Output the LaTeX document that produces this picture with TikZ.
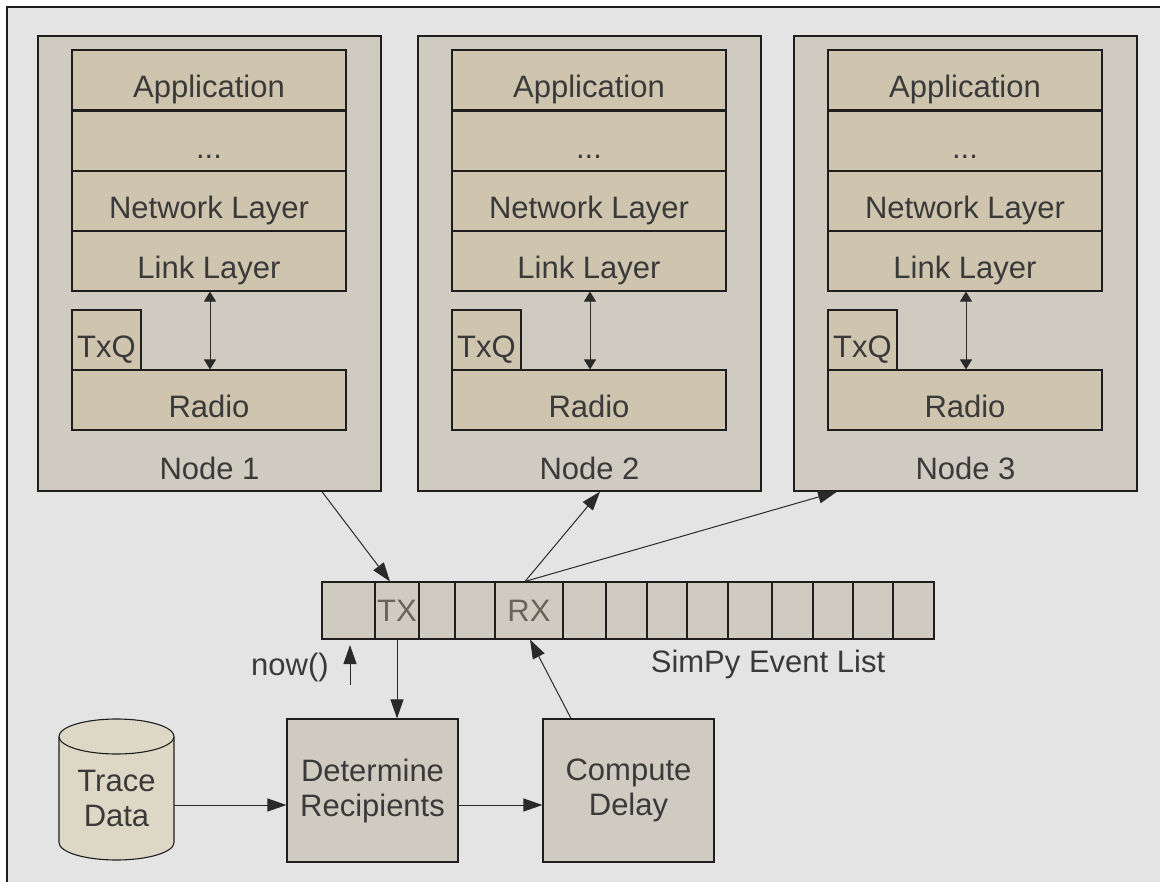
\documentclass[tikz,border=0pt]{standalone}
\usepackage{fontspec}
\setmainfont{Liberation Sans}
\usetikzlibrary{arrows.meta,calc}
\definecolor{bgc}{HTML}{E4E4E4}
\definecolor{nodec}{HTML}{D0CBC0}
\definecolor{layc}{HTML}{CFC5AE}
\definecolor{cylc}{HTML}{DDD7C5}
\definecolor{linec}{HTML}{1E1E1E}
\definecolor{arrc}{HTML}{2A2A2A}
\definecolor{txtc}{HTML}{3A3A3A}
\definecolor{cellt}{HTML}{6B6358}
\begin{document}
\begin{tikzpicture}[x=1pt,y=-1pt,
  font=\fontsize{31}{35}\selectfont, text=txtc,
  outerbox/.style={draw=linec, line width=1.3pt, fill=nodec, inner sep=0pt, minimum width=343pt, minimum height=455pt},
  layer/.style={draw=linec, line width=1.1pt, fill=layc, inner sep=0pt, minimum width=274pt, minimum height=60pt, text height=36pt, text depth=0pt},
  txq/.style={layer, minimum width=69pt},
  cell/.style={draw=linec, line width=1.1pt, fill=nodec, inner sep=0pt, minimum height=57pt, text height=22pt, text depth=0pt, text=cellt},
  procbox/.style={draw=linec, line width=1.1pt, fill=nodec, inner sep=0pt, minimum width=171pt, minimum height=143pt, align=center},
  lbl/.style={anchor=base, inner sep=0pt},
  arr/.style={draw=arrc, line width=1pt, -{Triangle[length=19pt,width=13pt]}},
  dbl/.style={draw=arrc, line width=1pt, {Triangle[length=10pt,width=12pt]}-{Triangle[length=10pt,width=12pt]}}
]
\useasboundingbox (0,0) rectangle (1160,882);
\fill[white] (0,0) rectangle (1160,882);
\fill[bgc] (7,7) rectangle (1160,882);
\draw[linec, line width=1.2pt] (7,882) -- (7,7) -- (1160,7);

% protocol-stack nodes
\foreach \i/\dx in {1/0,2/380,3/756}{
  \node[outerbox] (n\i) at (209.5+\dx,263.5) {};
  \node[layer] (app\i) at (209+\dx,80) {Application};
  \node[layer] (dots\i) at (209+\dx,141) {...};
  \node[layer] (net\i) at (209+\dx,201) {Network Layer};
  \node[layer] (link\i) at (209+\dx,261) {Link Layer};
  \node[txq] (txq\i) at (106.5+\dx,340) {TxQ};
  \node[layer] (radio\i) at (209+\dx,400) {Radio};
  \node[lbl] (nlab\i) at (209.5+\dx,480) {Node \i};
  \draw[dbl] ([xshift=1pt]link\i.south) -- ([xshift=1pt]radio\i.north);
}

% event list
\node[cell, minimum width=53pt] (c1) at (348.5,610.5) {};
\node[cell, minimum width=44pt] (tx) at (397,610.5) {TX};
\node[cell, minimum width=36pt] (c3) at (437,610.5) {};
\node[cell, minimum width=40pt] (c4) at (475,610.5) {};
\node[cell, minimum width=68pt] (rx) at (529,610.5) {RX};
\node[cell, minimum width=43pt] (c6) at (584.5,610.5) {};
\node[cell, minimum width=41pt] (c7) at (626.5,610.5) {};
\node[cell, minimum width=40pt] (c8) at (667,610.5) {};
\node[cell, minimum width=41pt] (c9) at (707.5,610.5) {};
\node[cell, minimum width=44pt] (c10) at (750,610.5) {};
\node[cell, minimum width=41pt] (c11) at (792.5,610.5) {};
\node[cell, minimum width=40pt] (c12) at (833,610.5) {};
\node[cell, minimum width=40pt] (c13) at (873,610.5) {};
\node[cell, minimum width=41pt] (c14) at (913.5,610.5) {};
\node[lbl] (simpy) at (768,672) {SimPy Event List};
\node[lbl] (now) at (290,675) {now()};

% trace data cylinder
\fill[cylc] (59,736.5) -- (59,842.5) arc[start angle=180, end angle=360, x radius=57.5pt, y radius=17.5pt] -- (174,736.5) -- cycle;
\draw[linec, line width=1.1pt] (59,736.5) -- (59,842.5) arc[start angle=180, end angle=360, x radius=57.5pt, y radius=17.5pt] -- (174,736.5);
\draw[linec, line width=1.1pt, fill=cylc] (116.5,736.5) ellipse[x radius=57.5pt, y radius=17.5pt];
\node[inner sep=0pt, minimum width=115pt, minimum height=123pt, align=center] (trace) at (116.5,798.5) {Trace\\Data};

% processing boxes
\node[procbox] (det) at (372.5,790.5) {Determine\\Recipients};
\node[procbox] (comp) at (628.5,790.5) {Compute\\Delay};

% connectors
\draw[arr] ([xshift=112.5pt]n1.south) -- ([xshift=-7pt]tx.north);
\draw[arr] ([xshift=-4pt]rx.north) -- ([xshift=10.5pt]n2.south);
\draw[arr] ([xshift=-4pt]rx.north) -- ([xshift=-128.5pt]n3.south);
\draw[arr] (tx.south) -- ([xshift=24.5pt]det.north);
\draw[arr] ([xshift=-57.5pt]comp.north) -- ([xshift=1pt]rx.south);
\coordinate (nowtail) at (350,685);
\coordinate (nowtip) at (350,645);
\draw[arr] (nowtail) -- (nowtip);
\draw[arr] ([yshift=-6.5pt]trace.east) -- ([yshift=-14.5pt]det.west);
\draw[arr] ([yshift=-14.5pt]det.east) -- ([yshift=-14.5pt]comp.west);
\end{tikzpicture}
\end{document}
